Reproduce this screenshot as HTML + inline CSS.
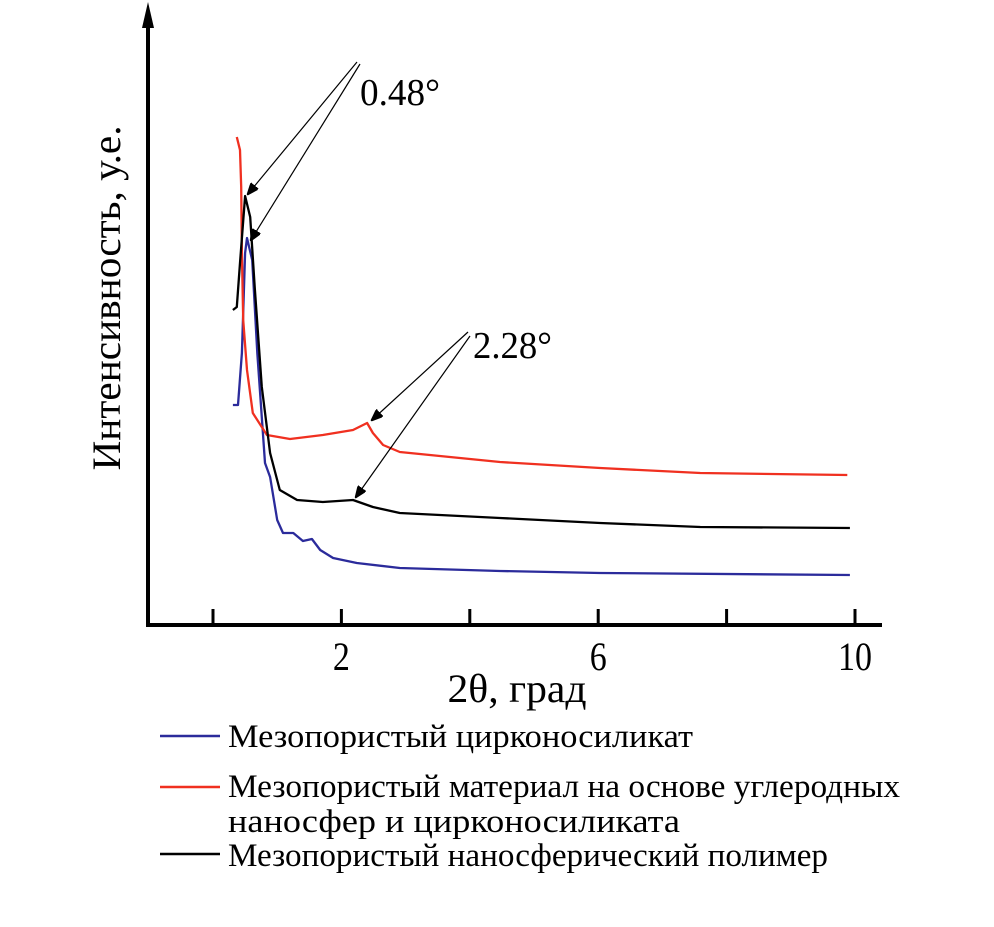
<!DOCTYPE html>
<html><head><meta charset="utf-8"><style>
body{margin:0;background:#fff;width:994px;height:922px;overflow:hidden}
svg text{font-family:"Liberation Serif",serif;fill:#000}
</style></head><body>
<svg width="994" height="922">
<g id="axes"></g><g id="series"></g>
<g stroke="#000" stroke-width="1.2">
<defs><marker id="ah" markerWidth="10" markerHeight="8" refX="9" refY="4" orient="auto"><path d="M0,0L10,4L0,8z" fill="#000"/></marker></defs>
<line x1="357" y1="62" x2="248" y2="194" marker-end="url(#ah)"/>
<line x1="360" y1="64" x2="251" y2="240" marker-end="url(#ah)"/>
<line x1="468" y1="332" x2="372" y2="420" marker-end="url(#ah)"/>
<line x1="470" y1="336" x2="356" y2="497" marker-end="url(#ah)"/>
</g>
<text x="360" y="105" font-size="38" textLength="80" lengthAdjust="spacingAndGlyphs">0.48°</text>
<text x="473" y="358" font-size="38" textLength="79" lengthAdjust="spacingAndGlyphs">2.28°</text>
<text transform="translate(120,298) rotate(-90)" text-anchor="middle" font-size="40" textLength="345" lengthAdjust="spacingAndGlyphs">Интенсивность, у.е.</text>
<text x="517" y="702" text-anchor="middle" font-size="40" textLength="139" lengthAdjust="spacingAndGlyphs">2θ, град</text>
<g font-size="33">
<line x1="160" y1="736" x2="220" y2="736" stroke="#2b2b9b" stroke-width="2.5"/>
<text x="228" y="747" textLength="465" lengthAdjust="spacingAndGlyphs">Мезопористый цирконосиликат</text>
<line x1="160" y1="787" x2="220" y2="787" stroke="#f03020" stroke-width="2.5"/>
<text x="228" y="797" textLength="672" lengthAdjust="spacingAndGlyphs">Мезопористый материал на основе углеродных</text>
<text x="228" y="832" textLength="452" lengthAdjust="spacingAndGlyphs">наносфер и цирконосиликата</text>
<line x1="160" y1="854" x2="220" y2="854" stroke="#000" stroke-width="2.5"/>
<text x="228" y="866" textLength="600" lengthAdjust="spacingAndGlyphs">Мезопористый наносферический полимер</text>
</g>
</svg>
<script>
const xTicks=[0,2,4,6,8,10];
const xTickLabels=["","2","","6","","10"];
const redX=[0.37,0.42,0.44,0.45,0.47,0.53,0.62,0.84,1.20,1.71,2.18,2.40,2.49,2.65,2.91,4.47,6.03,7.59,9.88];
const redY=[488,475,438,372,305,255,212,190,186,190,195,202,192,180,173,163,157,152,150];
const blackX=[0.31,0.37,0.42,0.50,0.58,0.65,0.76,0.89,1.04,1.31,1.71,2.18,2.49,2.91,4.47,6.03,7.59,9.92];
const blackY=[315,318,362,429,408,338,238,172,135,125,123,125,118,112,107,102,98,97];
const blueX=[0.31,0.39,0.45,0.50,0.53,0.61,0.69,0.81,0.89,1.00,1.09,1.25,1.40,1.54,1.67,1.87,2.24,2.91,4.47,6.03,9.92];
const blueY=[220,220,272,372,387,365,272,162,148,105,92,92,84,86,75,67,62,57,54,52,50];
const X=v=>213+v*64.2, Y=v=>625-v;
const ns="http://www.w3.org/2000/svg";
const ax=document.getElementById('axes'), sg=document.getElementById('series');
function mk(tag,attrs,parent){const e=document.createElementNS(ns,tag);for(const k in attrs)e.setAttribute(k,attrs[k]);parent.appendChild(e);return e;}
let yl=mk('line',{x1:148,y1:625,x2:148,y2:18,stroke:'#000','stroke-width':4},ax);


let ya=mk('path',{d:'M148,2 L142,28 L154,28 Z',fill:'#000'},ax);


let xl=mk('line',{x1:146,y1:625,x2:882,y2:625,stroke:'#000','stroke-width':4},ax);


xTicks.forEach((t,i)=>{
 let tk=mk('line',{x1:X(t),y1:625,x2:X(t),y2:609,stroke:'#000','stroke-width':3},ax);
 
 
 if(xTickLabels[i]){let tx=mk('text',{x:X(t),y:670,'text-anchor':'middle','font-size':40,transform:'translate('+X(t)+',0) scale(0.85,1) translate('+(-X(t))+',0)'},ax);tx.textContent=xTickLabels[i];
 
 }
});
function line(xs,ys,col,name){
 const d=xs.map((x,i)=>(i?'L':'M')+X(x).toFixed(1)+','+Y(ys[i]).toFixed(1)).join(' ');
 let p=mk('path',{d:d,fill:'none',stroke:col,'stroke-width':2.3,'stroke-linejoin':'round'},sg);
 
 
}
line(blueX,blueY,'#2b2b9b','series-zirconosilicate');
line(redX,redY,'#f03020','series-carbon-material');
line(blackX,blackY,'#000','series-polymer');
</script>
</body></html>
